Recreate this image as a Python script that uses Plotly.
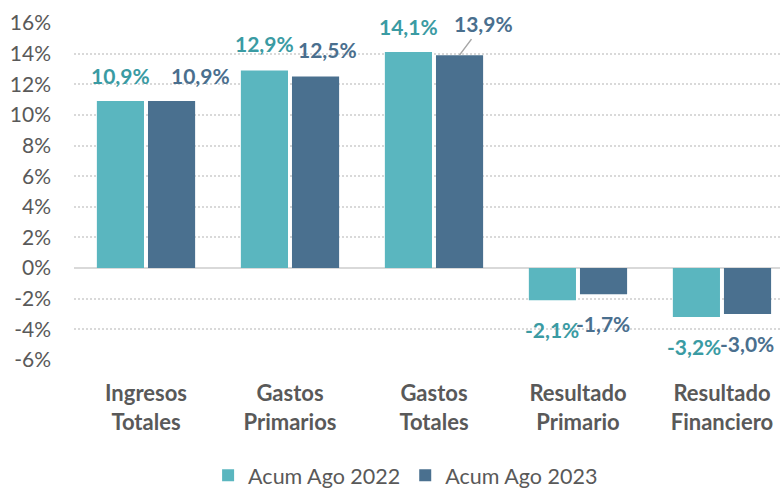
import plotly.graph_objects as go

CATEGORIES = ["Ingresos<br>Totales", "Gastos<br>Primarios", "Gastos<br>Totales",
              "Resultado<br>Primario", "Resultado<br>Financiero"]
SERIES_NAMES = ["Acum Ago 2022", "Acum Ago 2023"]
VALUES_2022 = [10.9, 12.9, 14.1, -2.1, -3.2]
VALUES_2023 = [10.9, 12.5, 13.9, -1.7, -3.0]
Y_TICK_VALS = [16, 14, 12, 10, 8, 6, 4, 2, 0, -2, -4, -6]
Y_TICK_TEXT = ["16%", "14%", "12%", "10%", "8%", "6%", "4%", "2%", "0%", "-2%", "-4%", "-6%"]

# styles
BAR_COLORS = ["#5AB6BF", "#4A708F"]
LABEL_COLORS = ["#3A9BA3", "#4A6F8E"]
FONT = "Lato"
GRAY = "#595959"
BAR_OFFSET_PX = 25.5
# (extra x shift px, distance from bar end px) per label
LABEL_OFFSETS = [
    [(0, 26), (0, 27), (0, 26), (0, 29), (-2, 29)],
    [(29, 26), (12, 27), (24, 32), (0, 29), (0, 29)],
]
LEADER = [[False, False, False, False, False], [False, False, True, False, False]]


def fmt(v):
    return f"{v:.1f}".replace(".", ",") + "%"


fig = go.Figure()
for name, vals, col in zip(SERIES_NAMES, [VALUES_2022, VALUES_2023], BAR_COLORS):
    fig.add_trace(go.Bar(x=CATEGORIES, y=vals, name=name, marker=dict(color=col, line=dict(width=0))))

annotations = []
for s, vals in enumerate([VALUES_2022, VALUES_2023]):
    base_shift = -BAR_OFFSET_PX if s == 0 else BAR_OFFSET_PX
    for i, (cat, v) in enumerate(zip(CATEGORIES, vals)):
        dx, dy = LABEL_OFFSETS[s][i]
        sign = 1 if v >= 0 else -1
        font = dict(family=FONT, size=21, color=LABEL_COLORS[s], weight="bold")
        if LEADER[s][i]:
            annotations.append(dict(
                x=cat, y=v, xref="x", yref="y", text=fmt(v), font=font,
                xshift=base_shift, showarrow=True, arrowhead=0, arrowwidth=1.5,
                arrowcolor="#A6A6A6", ax=dx, ay=-dy * sign, borderpad=3,
            ))
        else:
            annotations.append(dict(
                x=cat, y=v, xref="x", yref="y", text=fmt(v), font=font,
                xshift=base_shift + dx, yshift=dy * sign, showarrow=False,
                xanchor="center", yanchor="middle",
            ))

fig.update_layout(
    width=780, height=488,
    margin=dict(l=74, r=0, t=23, b=128),
    paper_bgcolor="white", plot_bgcolor="white",
    barmode="group", bargap=0.29, bargroupgap=0.078,
    font=dict(family=FONT, color=GRAY),
    annotations=annotations,
    showlegend=True,
    legend=dict(orientation="h", xref="container", yref="container",
                x=0.52, xanchor="center", y=0.026, yanchor="middle",
                font=dict(family=FONT, size=21.5, color=GRAY),
                itemwidth=30, tracegroupgap=0),
    xaxis=dict(type="category", range=[-0.5, 4.403], showgrid=False, showline=False,
               ticks="", tickfont=dict(family=FONT, size=22, color=GRAY, weight="bold"),
               ticklabelstandoff=18, fixedrange=True),
    yaxis=dict(range=[-6, 16], tickvals=Y_TICK_VALS, ticktext=Y_TICK_TEXT,
               showgrid=True, gridcolor="#D9D9D9", griddash="2px,2px", gridwidth=1.5,
               zeroline=True, zerolinecolor="#D9D9D9", zerolinewidth=2,
               showline=False, ticks="", ticklabelstandoff=22,
               tickfont=dict(family=FONT, size=21, color=GRAY), fixedrange=True),
)

fig.write_html("out.html", config={"displayModeBar": False},
               post_script="document.body.style.margin='0';document.body.style.overflow='hidden';")
